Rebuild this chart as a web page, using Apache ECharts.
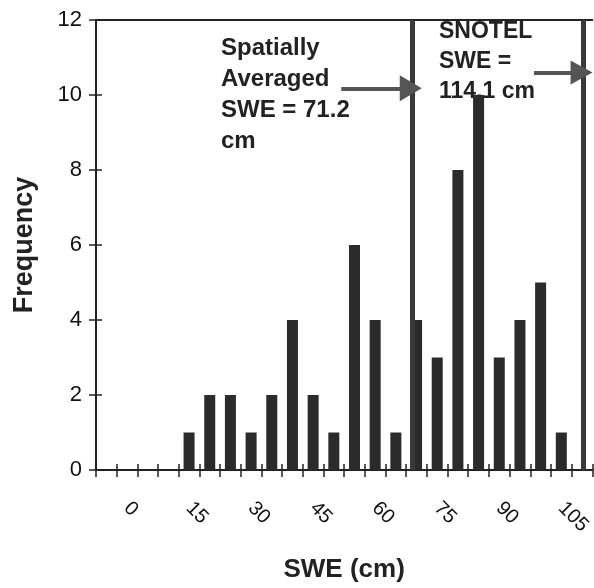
<!DOCTYPE html>
<html>
<head>
<meta charset="utf-8">
<script src="https://cdn.jsdelivr.net/npm/echarts@6/dist/echarts.min.js"></script>
<style>
html,body{margin:0;padding:0;background:#fff;}
#chart{width:594px;height:588px;}
</style>
</head>
<body>
<div id="chart"></div>
<script>
// Histogram bins (cm)
var categories = ["-5","0","5","10","15","20","25","30","35","40","45","50","55","60","65","70","75","80","85","90","95","100","105","110"];
var frequency  = [0,0,0,0,1,2,2,1,2,4,2,1,6,4,1,4,3,8,10,3,4,5,1,0];
var yTicks = {min:0, max:12, interval:2};
// vertical marker positions (cm) and arrow segments [x1, x2, y]
var markerPositions = [68.9, 110.3];
var arrowSpatial = [51.8, 68.6, 10.18];
var arrowSnotel  = [98.4, 109.9, 10.6];
var spatialText = "Spatially\nAveraged\nSWE = 71.2\ncm";
var snotelText  = "SNOTEL\nSWE =\n114.1 cm";

var FONT = '"Liberation Sans", Arial, sans-serif';
var chart = echarts.init(document.getElementById('chart'));

chart.setOption({
  animation: false,
  backgroundColor: '#fff',
  grid: {left: 96, top: 20, right: -3, bottom: 112, containLabel: false},
  xAxis: [
    {
      type: 'category', data: categories, position: 'bottom',
      boundaryGap: true,
      axisLine: {show: true, onZero: false, lineStyle: {color: '#222', width: 2}},
      axisTick: {show: true, interval: 0, inside: false, length: 7, lineStyle: {color: '#222', width: 1.5}},
      axisLabel: {
        interval: function (i) { return i % 3 === 1; },
        rotate: -45, margin: 35, fontSize: 20, fontFamily: FONT, color: '#111'
      },
      name: 'SWE (cm)', nameLocation: 'middle', nameGap: 87,
      nameTextStyle: {fontSize: 26, fontWeight: 'bold', fontFamily: FONT, color: '#222'},
      splitLine: {show: false}
    },
    {
      type: 'category', data: categories, position: 'bottom',
      axisLine: {show: false, onZero: false},
      axisTick: {show: true, interval: 0, inside: true, length: 6, lineStyle: {color: '#222', width: 1.5}},
      axisLabel: {show: false}, splitLine: {show: false}
    },
    {
      type: 'value', position: 'top', min: -7.5, max: 112.5,
      axisLine: {show: true, onZero: false, lineStyle: {color: '#222', width: 2}},
      axisTick: {show: false}, axisLabel: {show: false}, splitLine: {show: false}
    }
  ],
  yAxis: [
    {
      type: 'value', position: 'left', min: yTicks.min, max: yTicks.max, interval: yTicks.interval,
      axisLine: {show: true, onZero: false, lineStyle: {color: '#222', width: 2}},
      axisTick: {show: true, inside: false, length: 7, lineStyle: {color: '#222', width: 1.5}},
      axisLabel: {margin: 14, fontSize: 22, fontFamily: FONT, color: '#111'},
      name: 'Frequency', nameLocation: 'middle', nameGap: 58,
      nameTextStyle: {fontSize: 27, fontWeight: 'bold', fontFamily: FONT, color: '#222'},
      splitLine: {show: false}
    },
    {
      type: 'value', position: 'left', min: yTicks.min, max: yTicks.max, interval: yTicks.interval,
      axisLine: {show: false, onZero: false},
      axisTick: {show: true, inside: true, length: 6, lineStyle: {color: '#222', width: 1.5}},
      axisLabel: {show: false}, splitLine: {show: false}
    }
  ],
  series: [
    {
      type: 'bar', xAxisIndex: 0, yAxisIndex: 0,
      data: frequency, barWidth: 11,
      itemStyle: {color: '#2b2b2b'}
    },
    {
      type: 'line', xAxisIndex: 2, yAxisIndex: 0, data: [], silent: true,
      markLine: {
        silent: true, animation: false,
        label: {show: false},
        data: [
          [{coord: [markerPositions[0], 0], symbol: 'none', lineStyle: {color: '#3a3a3a', width: 5, type: 'solid'}},
           {coord: [markerPositions[0], 12], symbol: 'none'}],
          [{coord: [markerPositions[1], 0], symbol: 'none', lineStyle: {color: '#3a3a3a', width: 5, type: 'solid'}},
           {coord: [markerPositions[1], 12], symbol: 'none'}],
          [{coord: [arrowSpatial[0], arrowSpatial[2]], symbol: 'none', lineStyle: {color: '#555', width: 4, type: 'solid'}},
           {coord: [arrowSpatial[1], arrowSpatial[2]], symbol: 'triangle', symbolSize: [26, 22]}],
          [{coord: [arrowSnotel[0], arrowSnotel[2]], symbol: 'none', lineStyle: {color: '#555', width: 4, type: 'solid'}},
           {coord: [arrowSnotel[1], arrowSnotel[2]], symbol: 'triangle', symbolSize: [24, 22]}]
        ]
      }
    }
  ],
  graphic: [
    {type: 'text', left: 221, top: 33, silent: true,
     style: {text: spatialText, font: 'bold 24px ' + FONT, fill: '#222', lineHeight: 31}},
    {type: 'text', left: 439, top: 17, silent: true,
     style: {text: snotelText, font: 'bold 23px ' + FONT, fill: '#222', lineHeight: 30}}
  ]
});
</script>
</body>
</html>
